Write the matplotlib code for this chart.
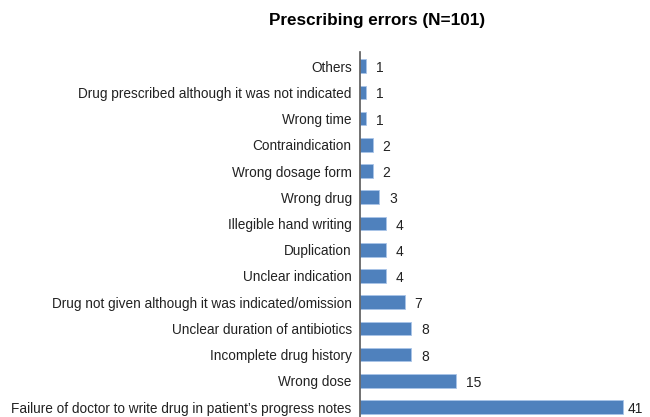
import numpy as np
import matplotlib.pyplot as plt

plt.rcParams['font.family'] = ['Liberation Sans', 'DejaVu Sans']

categories = [
    'Failure of doctor to write drug in patient\u2019s progress notes',
    'Wrong dose',
    'Incomplete drug history',
    'Unclear duration of antibiotics',
    'Drug not given although it was indicated/omission',
    'Unclear indication',
    'Duplication',
    'Illegible hand writing',
    'Wrong drug',
    'Wrong dosage form',
    'Contraindication',
    'Wrong time',
    'Drug prescribed although it was not indicated',
    'Others',
]
counts = [41, 15, 8, 8, 7, 4, 4, 4, 3, 2, 2, 1, 1, 1]

fig = plt.figure(figsize=(6.5, 4.17), dpi=100)
ax = fig.add_axes([360 / 650, 0, 290 / 650, (417 - 52) / 417])

y = np.arange(len(categories))
ax.barh(y, counts, height=0.52, color='#4F81BD', edgecolor='#A9C4E8', linewidth=0.6)
for yi, c in zip(y, counts):
    pad = 3 if c > 30 else 7
    ax.annotate(str(c), (c, yi), xytext=(pad, -1.5), textcoords='offset points',
                ha='left', va='center', fontsize=10, color='#222222')

ax.set_xlim(0, 45.2)
ax.set_ylim(-0.38, 13.54)
ax.set_yticks(y)
ax.set_yticklabels(categories, fontsize=9.8, color='#222222')
ax.tick_params(axis='y', length=0, pad=6)
ax.set_xticks([])
for s in ['top', 'right', 'bottom']:
    ax.spines[s].set_visible(False)
ax.spines['left'].set_color('#595959')
ax.spines['left'].set_linewidth(1.2)

fig.text(377 / 650, 1 - 20 / 417, 'Prescribing errors (N=101)', ha='center', va='center',
         fontsize=12.3, fontweight='bold')

fig.savefig('out.png', dpi=100)
